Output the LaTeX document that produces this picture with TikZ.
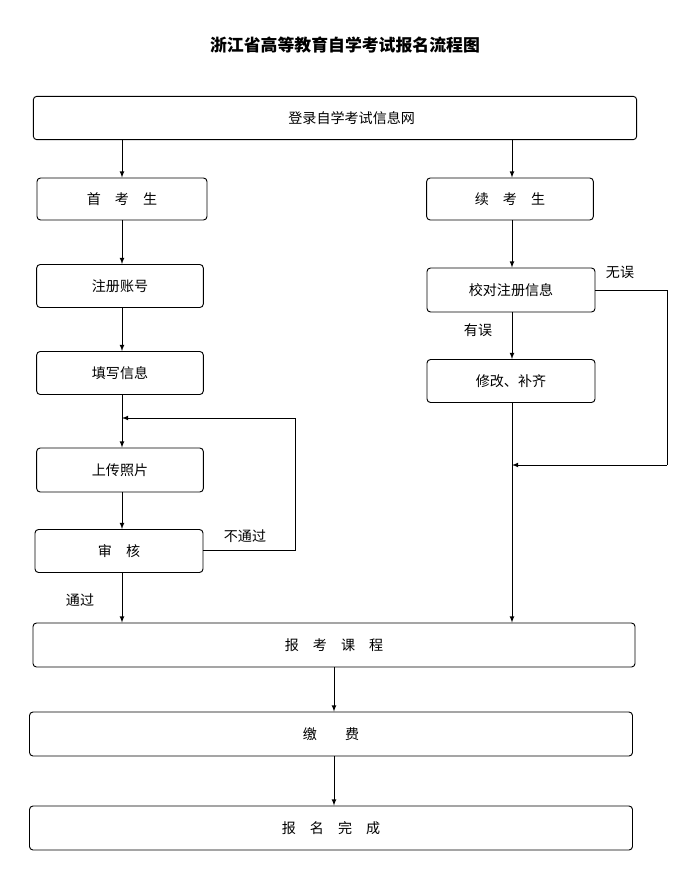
\documentclass[tikz,border=0pt]{standalone}
\usepackage{fontspec}
\setmainfont{Noto Sans CJK SC}
\usetikzlibrary{calc}
\tikzset{>=latex}
\tikzset{
  stage/.style = {draw,rounded corners=3pt,thick,inner sep=0pt,font=\large},
  flow/.style = {->,thick},
  lbl/.style = {font=\large}
}

\begin{document}
\begin{tikzpicture}[x=0.03cm,y=-0.03cm]
  \useasboundingbox (0,0) rectangle (677,875);
  % title
  \node[font=\Large\bfseries] (title) at (345,45) {浙江省高等教育自学考试报名流程图};
  % boxes
  \node[stage,minimum width=18.1cm,minimum height=1.3cm] (login) at (335,118) {\hspace{1cm}登录自学考试信息网};
  \node[stage,minimum width=5.1cm,minimum height=1.26cm] (first) at (122,199) {首\quad 考\quad 生};
  \node[stage,minimum width=5cm,minimum height=1.26cm] (cont) at (510,199) {续\quad 考\quad 生};
  \node[stage,minimum width=5cm,minimum height=1.29cm] (reg) at (120,286) {注册账号};
  \node[stage,minimum width=5.04cm,minimum height=1.32cm] (check) at (511,290) {校对注册信息};
  \node[stage,minimum width=5cm,minimum height=1.29cm] (fill) at (120,373) {填写信息};
  \node[stage,minimum width=5.04cm,minimum height=1.29cm] (fix) at (511,381) {修改、补齐};
  \node[stage,minimum width=5cm,minimum height=1.32cm] (photo) at (120,470) {上传照片};
  \node[stage,minimum width=5.04cm,minimum height=1.29cm] (audit) at (119,551) {审\quad 核};
  \node[stage,minimum width=18.06cm,minimum height=1.32cm] (course) at (334,645) {报\quad 考\quad 课\quad 程};
  \node[stage,minimum width=18.09cm,minimum height=1.32cm] (fee) at (331,734) {缴\qquad 费};
  \node[stage,minimum width=18.09cm,minimum height=1.32cm] (done) at (331,828) {报\quad 名\quad 完\quad 成};
  % junctions and corners
  \coordinate (j1) at (122,418);
  \coordinate (j2) at (512,465);
  \coordinate (c1) at (295,550);
  \coordinate (c2) at (295,418);
  \coordinate (c3) at (667,290);
  \coordinate (c4) at (667,465);
  % left branch
  \draw[flow] (login.south -| first) -- (first);
  \draw[flow] (first.south) -- (reg.north -| first);
  \draw[flow] (reg.south -| first) -- (fill.north -| first);
  \draw[flow] (fill.south -| first) -- (photo.north -| first);
  \draw[flow] (photo.south -| first) -- (audit.north -| first);
  \draw[thick] (audit.east |- c1) -- (c1) -- (c2);
  \draw[flow] (c2) -- (j1);
  \node[lbl] (fail) at (245,536) {不通过};
  \draw[flow] (audit.south -| first) -- (course.north -| first);
  \node[lbl] (pass) at (80,600) {通过};
  % right branch
  \draw[flow] (login.south -| j2) -- (cont.north -| j2);
  \draw[flow] (cont.south -| j2) -- (check.north -| j2);
  \draw[flow] (check.south -| j2) -- (fix.north -| j2);
  \node[lbl] (err) at (478,330) {有误};
  \draw[thick] (check.east) -- (c3) -- (c4);
  \draw[flow] (c4) -- (j2);
  \node[lbl] (ok) at (620,272) {无误};
  \draw[flow] (fix.south -| j2) -- (course.north -| j2);
  % bottom
  \draw[flow] (course.south) -- (fee.north -| course);
  \draw[flow] (fee.south -| course) -- (done.north -| course);
\end{tikzpicture}
\end{document}
